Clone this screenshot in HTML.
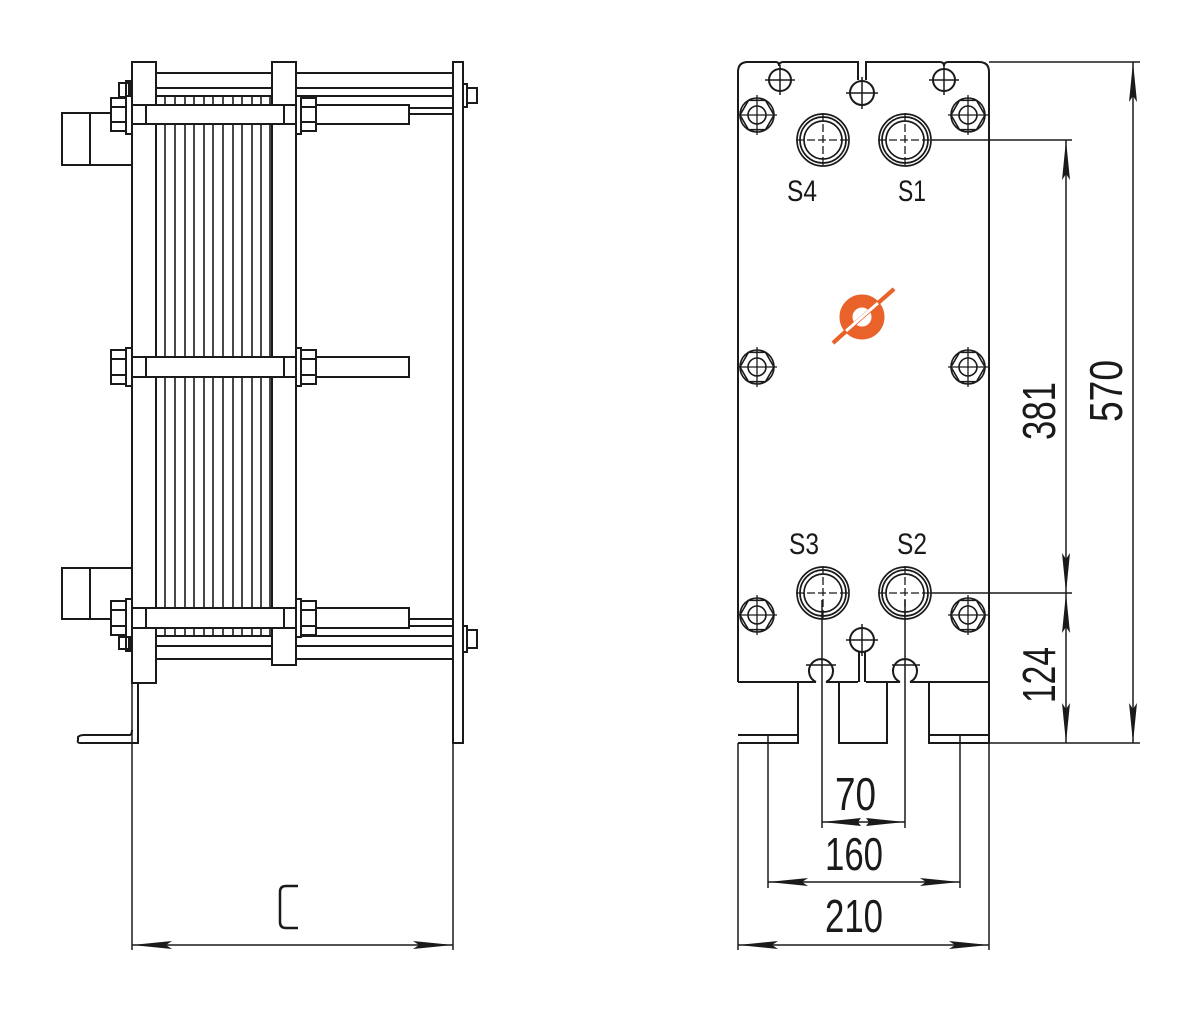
<!DOCTYPE html>
<html><head><meta charset="utf-8"><style>
html,body{margin:0;padding:0;background:#fff;}
svg{display:block}
text{font-family:"Liberation Sans",sans-serif;fill:#1a1a1a}
</style></head><body>
<svg width="1200" height="1013" viewBox="0 0 1200 1013" xmlns="http://www.w3.org/2000/svg">
<defs>
<marker id="a" viewBox="0 0 40 8" refX="40" refY="4" markerWidth="40" markerHeight="8" markerUnits="userSpaceOnUse" orient="auto-start-reverse"><path d="M0,0 L40,4 L0,8 L6,4z" fill="#1a1a1a"/></marker>
</defs>
<g fill="none" stroke="#1a1a1a" stroke-width="2">
<!-- LEFT VIEW -->
<line x1="156" y1="73" x2="453" y2="73"/>
<line x1="156" y1="88" x2="453" y2="88"/>
<line x1="156" y1="96" x2="453" y2="96"/>
<line x1="409" y1="108" x2="453" y2="108"/>
<line x1="409" y1="114" x2="453" y2="114"/>
<line x1="156" y1="636" x2="453" y2="636"/>
<line x1="156" y1="646" x2="453" y2="646"/>
<line x1="156" y1="659" x2="453" y2="659"/>
<line x1="409" y1="619" x2="453" y2="619"/>
<line x1="409" y1="626" x2="453" y2="626"/>
<g stroke-width="1.6">
<line x1="165" y1="97" x2="165" y2="636"/><line x1="175" y1="97" x2="175" y2="636"/>
<line x1="185" y1="97" x2="185" y2="636"/><line x1="194" y1="97" x2="194" y2="636"/>
<line x1="204" y1="97" x2="204" y2="636"/><line x1="213" y1="97" x2="213" y2="636"/>
<line x1="223" y1="97" x2="223" y2="636"/><line x1="233" y1="97" x2="233" y2="636"/>
<line x1="242" y1="97" x2="242" y2="636"/><line x1="252" y1="97" x2="252" y2="636"/>
<line x1="261" y1="97" x2="261" y2="636"/><line x1="270" y1="97" x2="270" y2="636"/>
</g>
<rect x="132" y="62" width="24" height="621" fill="#fff"/>
<rect x="272" y="62" width="24" height="603" fill="#fff"/>
<rect x="453" y="62" width="10" height="681" fill="#fff"/>
<rect x="463" y="84" width="4" height="23"/><rect x="467" y="88" width="10" height="15"/>
<rect x="463" y="626" width="4" height="26"/><rect x="467" y="630" width="10" height="18"/>
<rect x="62" y="113" width="70" height="52"/><line x1="90" y1="113" x2="90" y2="165"/>
<rect x="62" y="568" width="70" height="51"/><line x1="90" y1="568" x2="90" y2="619"/>
<rect x="119" y="83" width="10" height="14"/><rect x="126" y="81" width="4" height="16"/>
<rect x="119" y="637" width="10" height="12"/><rect x="126" y="635" width="4" height="16"/>
<g fill="#fff">
<rect x="132" y="105" width="277" height="19"/>
<rect x="111" y="98" width="15" height="33"/><rect x="126" y="96" width="6" height="38"/>
<rect x="296" y="96" width="5" height="38"/><rect x="301" y="98" width="15" height="33"/>
<rect x="132" y="357" width="277" height="20"/>
<rect x="111" y="350" width="15" height="34"/><rect x="126" y="348" width="6" height="38"/>
<rect x="296" y="348" width="5" height="38"/><rect x="301" y="350" width="15" height="34"/>
<rect x="132" y="608" width="277" height="20"/>
<rect x="111" y="601" width="15" height="34"/><rect x="126" y="599" width="6" height="38"/>
<rect x="296" y="599" width="5" height="38"/><rect x="301" y="601" width="15" height="34"/>
</g>
<line x1="146" y1="105" x2="146" y2="124"/><line x1="284" y1="105" x2="284" y2="124"/>
<line x1="146" y1="357" x2="146" y2="377"/><line x1="284" y1="357" x2="284" y2="377"/>
<line x1="146" y1="608" x2="146" y2="628"/><line x1="284" y1="608" x2="284" y2="628"/>
<line x1="111" y1="107" x2="126" y2="107"/><line x1="111" y1="122" x2="126" y2="122"/>
<line x1="301" y1="107" x2="316" y2="107"/><line x1="301" y1="122" x2="316" y2="122"/>
<line x1="111" y1="359" x2="126" y2="359"/><line x1="111" y1="375" x2="126" y2="375"/>
<line x1="301" y1="359" x2="316" y2="359"/><line x1="301" y1="375" x2="316" y2="375"/>
<line x1="111" y1="610" x2="126" y2="610"/><line x1="111" y1="626" x2="126" y2="626"/>
<line x1="301" y1="610" x2="316" y2="610"/><line x1="301" y1="626" x2="316" y2="626"/>
<path d="M132,683 H138 V743 H80 Q77,743 78,740 V737 Q80,735 84,735 H130 Q132,734 132,730"/>
<line x1="132" y1="683" x2="132" y2="950" stroke-width="1.5"/>
<line x1="453" y1="743" x2="453" y2="950" stroke-width="1.5"/>
<line x1="132" y1="945" x2="453" y2="945" stroke-width="1.5" marker-start="url(#a)" marker-end="url(#a)"/>

<!-- RIGHT VIEW -->
<path d="M738,682 V72 Q738,62 748,62 H776 Q779,62 779,66 Q779,62 783,62 H858 V80 M866,80 V62 H940 Q944,62 944,66 Q944,62 948,62 H979 Q989,62 989,72 V743 H929 V682 M929,735 H989 M738,735 H798 M738,743 H798 V682 M839,682 V743 H887 V682"/>
<line x1="738" y1="682" x2="816" y2="682"/><line x1="826" y1="682" x2="858" y2="682"/>
<line x1="866" y1="682" x2="900" y2="682"/><line x1="910" y1="682" x2="989" y2="682"/>
<line x1="989" y1="62" x2="1140" y2="62" stroke-width="1.5"/>
<circle cx="780" cy="80" r="11"/><circle cx="944" cy="80" r="11"/>
<circle cx="862" cy="93" r="12"/>
<circle cx="862" cy="640" r="12"/><line x1="859" y1="652" x2="859" y2="682"/><line x1="865" y1="652" x2="865" y2="682"/>
<path d="M816,682 A12,12 0 1 1 826,682"/><path d="M900,682 A12,12 0 1 1 910,682"/>
<g stroke-width="1.5">
<path d="M765,80 H795 M780,65 V95 M929,80 H959 M944,65 V95 M846,93 H878 M862,77 V109 M846,640 H878 M862,624 V656 M806,665 H836 M892,665 H920"/>
</g>
<g id="hx" stroke-width="1.6">
<circle cx="757" cy="115" r="17"/>
<polygon points="774,115 765.5,129.7 748.5,129.7 740,115 748.5,100.3 765.5,100.3"/>
<circle cx="757" cy="115" r="9"/>
<path d="M737,115 H777 M757,95 V135" stroke-width="1.3"/>
</g>
<use href="#hx" x="211"/><use href="#hx" y="252"/><use href="#hx" x="211" y="252"/>
<use href="#hx" y="500"/><use href="#hx" x="211" y="500"/>
<g id="pt" stroke-width="1.7">
<circle cx="823" cy="140" r="26"/><circle cx="823" cy="140" r="23"/><circle cx="823" cy="140" r="19"/>
<path d="M796,140 H850 M823,113 V167" stroke-width="1.3" stroke-dasharray="8,3"/>
</g>
<use href="#pt" x="82"/><use href="#pt" y="453"/><use href="#pt" x="82" y="453"/>
<g stroke-width="1.5">
<line x1="931" y1="140" x2="1072" y2="140"/>
<line x1="931" y1="593" x2="1072" y2="593"/>
<line x1="989" y1="743" x2="1140" y2="743"/>
<line x1="1066" y1="140" x2="1066" y2="593" marker-start="url(#a)" marker-end="url(#a)"/>
<line x1="1066" y1="593" x2="1066" y2="743" marker-start="url(#a)" marker-end="url(#a)"/>
<line x1="1133" y1="62" x2="1133" y2="743" marker-start="url(#a)" marker-end="url(#a)"/>
<line x1="822" y1="600" x2="822" y2="828"/><line x1="905" y1="600" x2="905" y2="828"/>
<line x1="768" y1="735" x2="768" y2="888"/><line x1="960" y1="735" x2="960" y2="888"/>
<line x1="738" y1="743" x2="738" y2="950"/><line x1="989" y1="743" x2="989" y2="950"/>
<line x1="822" y1="822" x2="905" y2="822"/>
<line x1="768" y1="882" x2="960" y2="882" marker-start="url(#a)" marker-end="url(#a)"/>
<line x1="738" y1="945" x2="989" y2="945" marker-start="url(#a)" marker-end="url(#a)"/>
</g>
</g>
<path d="M822,822 L861,818 L858,822 L861,826z M905,822 L866,818 L869,822 L866,826z" fill="#1a1a1a"/>
<g>
<circle cx="862" cy="317" r="16" fill="none" stroke="#e8622a" stroke-width="13"/>
<line x1="833" y1="343" x2="894" y2="289" stroke="#e8622a" stroke-width="4"/>
<line x1="846" y1="331" x2="878" y2="303" stroke="#fff" stroke-width="3"/>
<line x1="833" y1="343" x2="846" y2="331" stroke="#e8622a" stroke-width="4"/>
<line x1="878" y1="303" x2="894" y2="289" stroke="#e8622a" stroke-width="4"/>
</g>
<g font-size="30">
<text x="787" y="201" textLength="30" lengthAdjust="spacingAndGlyphs">S4</text>
<text x="898" y="201" textLength="28" lengthAdjust="spacingAndGlyphs">S1</text>
<text x="789" y="554" textLength="30" lengthAdjust="spacingAndGlyphs">S3</text>
<text x="897" y="554" textLength="30" lengthAdjust="spacingAndGlyphs">S2</text>
</g>
<g font-size="46">
<text x="835" y="810" textLength="41" lengthAdjust="spacingAndGlyphs">70</text>
<text x="825" y="870" textLength="58" lengthAdjust="spacingAndGlyphs">160</text>
<text x="825" y="932" textLength="58" lengthAdjust="spacingAndGlyphs">210</text>
<text transform="translate(1055,440) rotate(-90)" textLength="58" lengthAdjust="spacingAndGlyphs">381</text>
<text transform="translate(1055,703) rotate(-90)" textLength="56" lengthAdjust="spacingAndGlyphs">124</text>
<text transform="translate(1122,422) rotate(-90)" textLength="62" lengthAdjust="spacingAndGlyphs">570</text>
</g>
<path d="M298,886 H286 Q280,886 280,892 V922 Q280,928 286,928 H298" fill="none" stroke="#1a1a1a" stroke-width="2.5"/>
</svg>
</body></html>
